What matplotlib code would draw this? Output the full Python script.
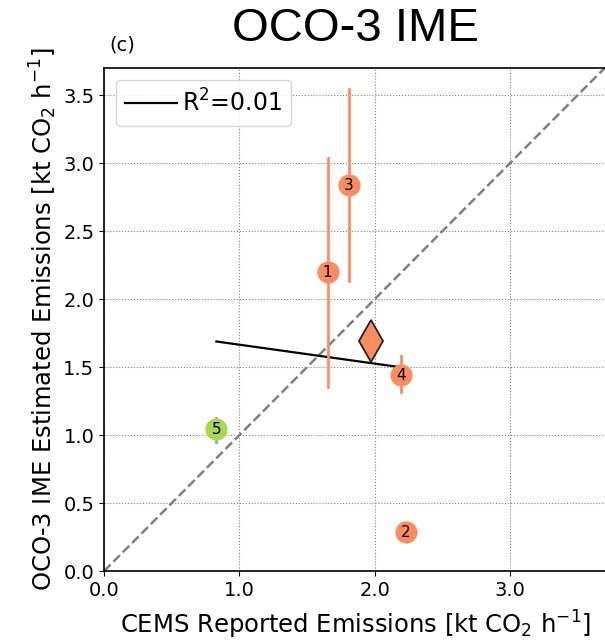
import numpy as np
import matplotlib
matplotlib.use("Agg")
import matplotlib.pyplot as plt

# Data
labels = ["1", "2", "3", "4", "5"]
cems = np.array([1.652, 2.23, 1.807, 2.193, 0.83])
ime = np.array([2.199, 0.287, 2.838, 1.441, 1.044])
ime_lo = np.array([1.353, 0.287, 2.132, 1.316, 0.948])
ime_hi = np.array([3.037, 0.287, 3.544, 1.581, 1.125])
colors = ["#FC8D62", "#FC8D62", "#FC8D62", "#FC8D62", "#A6D854"]
err_colors = ["#FC8D62", "#FC8D62", "#FC8D62", "#FC8D62", "#8DA0CB"]

fig = plt.figure(figsize=(6.05, 6.41), dpi=100)
ax = fig.add_axes([0.172, 0.109, 0.86, 0.785])
ax.set_xlim(0, 3.845)
ax.set_ylim(0, 3.7)

ax.grid(True, color="gray", linestyle=":", linewidth=0.8)
ax.set_axisbelow(True)
ax.plot([0, 3.7], [0, 3.7], linestyle="--", color="gray", linewidth=1.8, zorder=1)

# regression
slope, intercept = np.polyfit(cems, ime, 1)
r2 = np.corrcoef(cems, ime)[0, 1] ** 2
xs = np.array([cems.min(), cems.max()])
ax.plot(xs, slope * xs + intercept, color="black", linewidth=1.6, zorder=2,
        label=r"R$^2$=%.2f" % r2)

for i in range(len(cems)):
    ax.plot([cems[i], cems[i]], [ime_lo[i], ime_hi[i]], color=err_colors[i],
            linewidth=2, zorder=3)
    ax.plot(cems[i], ime[i], "o", color=colors[i], markersize=16, zorder=4,
            markeredgewidth=0)
    ax.text(cems[i], ime[i], labels[i], ha="center", va="center",
            fontsize=11, zorder=5)

ax.plot(np.mean(cems[:4]), np.mean(ime[:4]), "d", color="#FC8D62",
        markeredgecolor="#222222", markeredgewidth=1.3, markersize=21, zorder=4)

ax.set_xticks([0, 1, 2, 3])
ax.set_xticklabels(["0.0", "1.0", "2.0", "3.0"])
ax.set_yticks(np.arange(0, 3.51, 0.5))
ax.set_yticklabels(["%.1f" % v for v in np.arange(0, 3.51, 0.5)])
ax.tick_params(labelsize=14)
for s in ax.spines.values():
    s.set_linewidth(1.2)

ax.set_xlabel(r"CEMS Reported Emissions [kt CO$_2$ h$^{-1}$]", fontsize=17.5)
ax.xaxis.set_label_coords(0.483, -0.075)
ax.set_ylabel(r"OCO-3 IME Estimated Emissions [kt CO$_2$ h$^{-1}$]", fontsize=17.5,
              labelpad=3)
ax.legend(loc="upper left", fontsize=17, handlelength=2.2, handletextpad=0.2,
          borderpad=0.4)

fig.text(0.588, 0.955, "OCO-3 IME", fontsize=34, family="Liberation Sans",
         ha="center", va="center")
fig.text(0.18, 0.93, "(c)", fontsize=14, ha="left", va="center")

fig.savefig("out.png", dpi=100)
